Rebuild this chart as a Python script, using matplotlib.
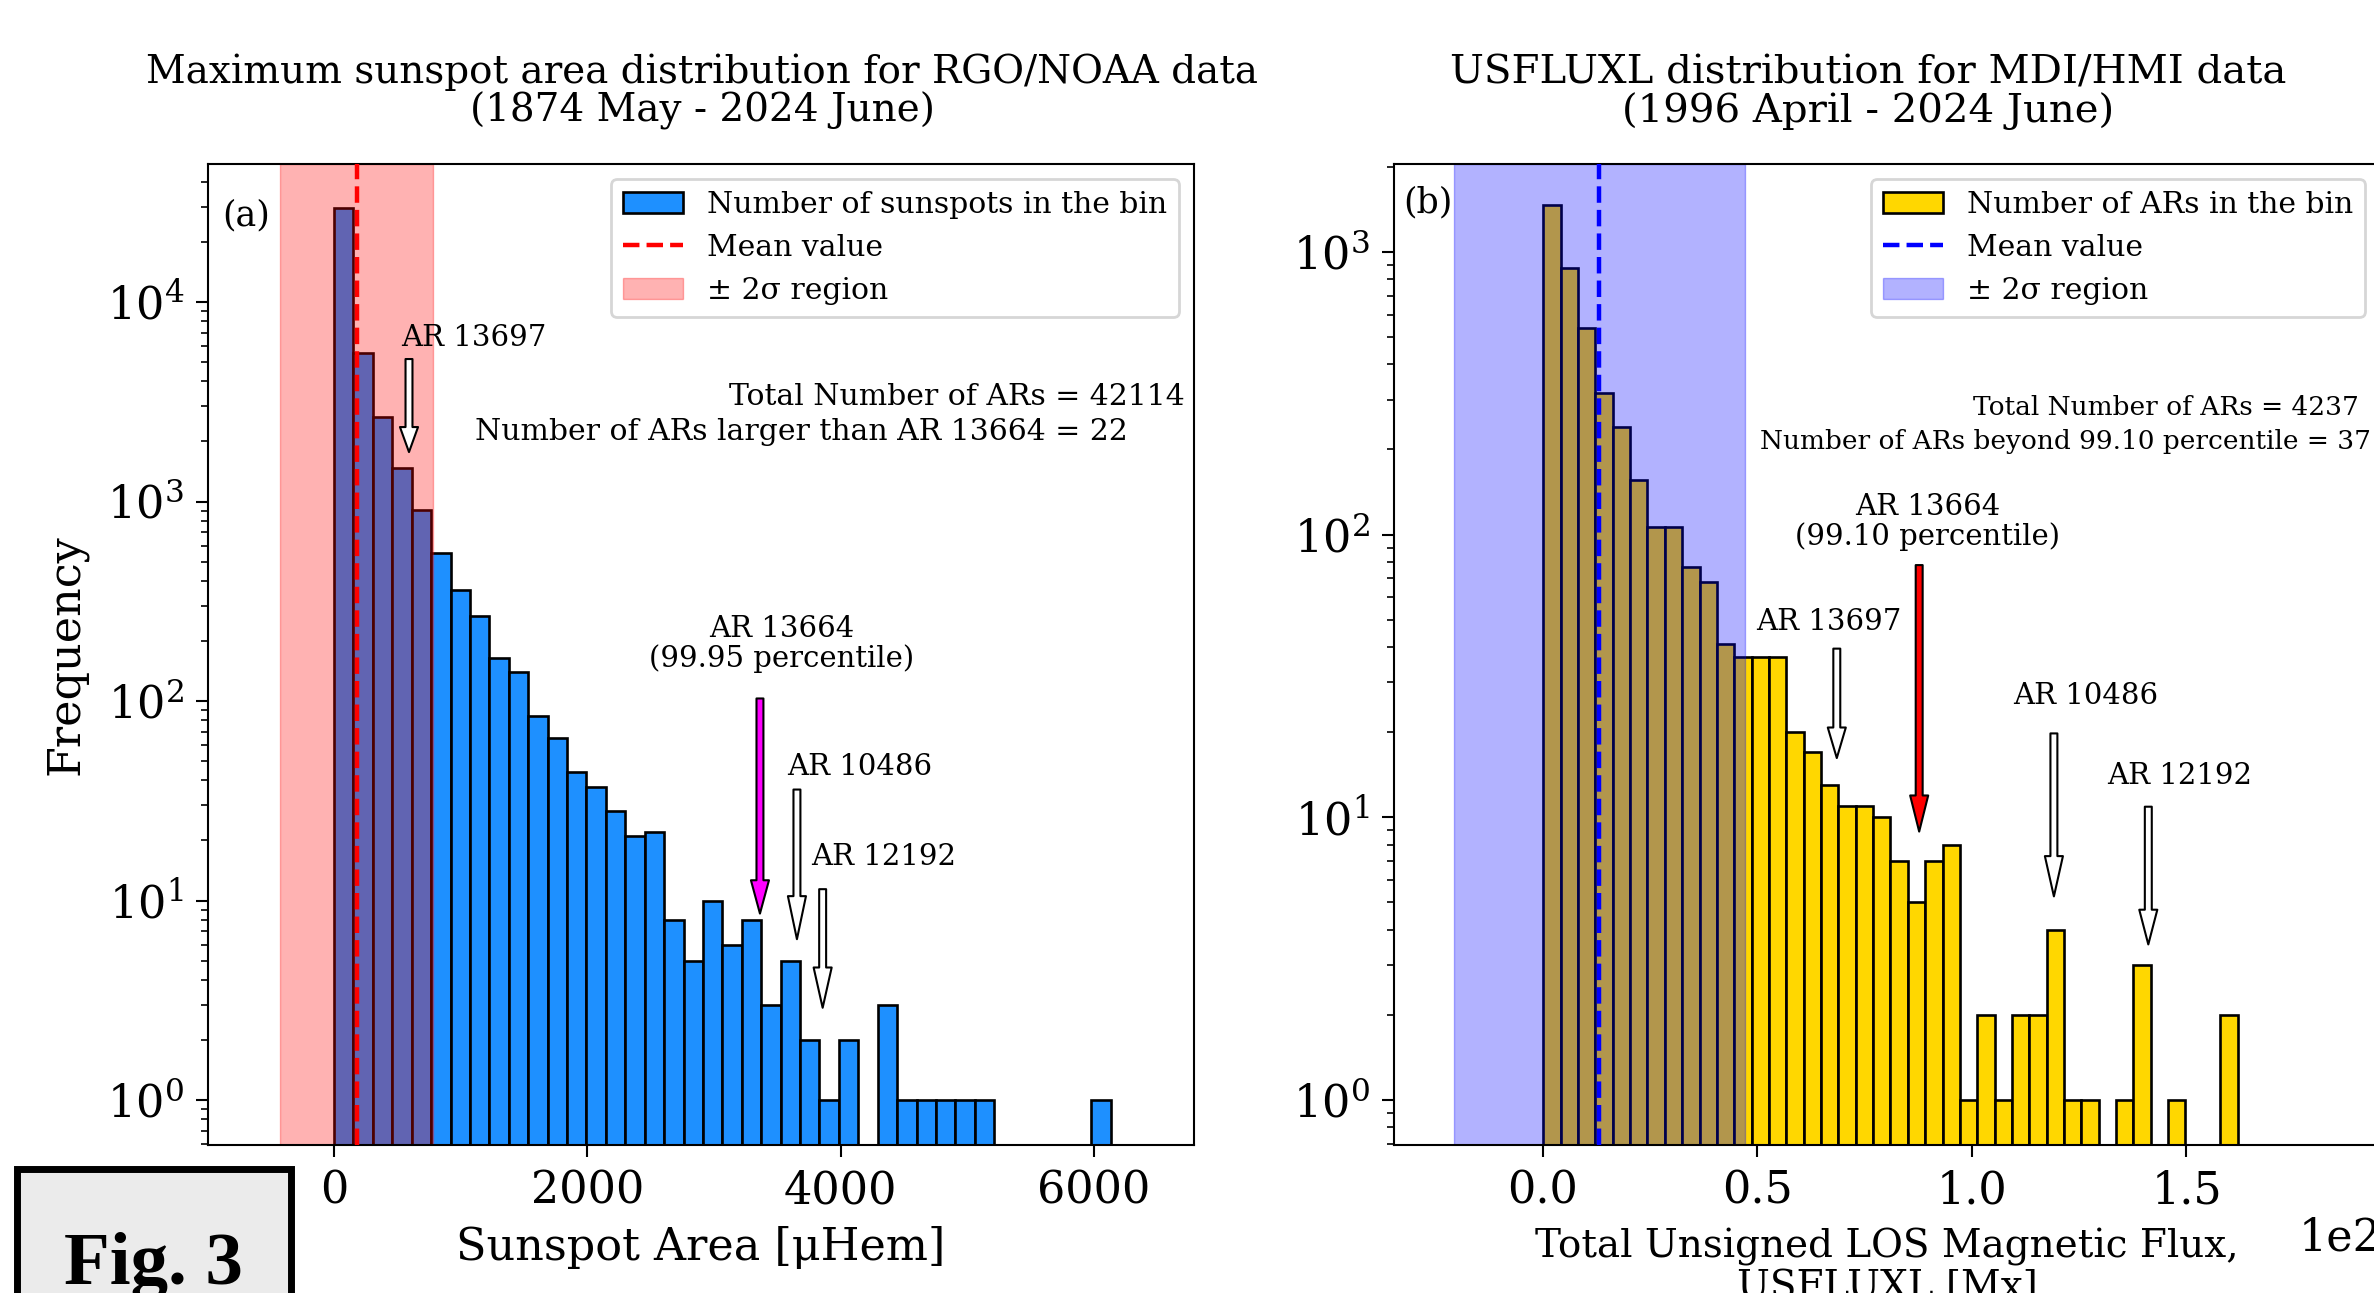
import numpy as np
import matplotlib
matplotlib.use('Agg')
import matplotlib.pyplot as plt
from matplotlib.patches import Patch, Rectangle
from matplotlib.lines import Line2D

plt.rcParams['font.family'] = 'DejaVu Serif'
plt.rcParams['mathtext.fontset'] = 'dejavuserif'

# (a) RGO/NOAA maximum sunspot area, 40 bins
area_range = (0, 6132)
area_counts = [29700, 5530, 2640, 1466, 906, 554, 360, 267, 165, 139,
               84, 65, 44, 37, 28, 21, 22, 8, 5, 10,
               6, 8, 3, 5, 2, 1, 2, 0, 3, 1,
               1, 1, 1, 1, 0, 0, 0, 0, 0, 1]
area_mean = 178
area_2sigma = 602

# (b) MDI/HMI USFLUXL, 40 bins
flux_range = (0.001e23, 1.619e23)
flux_counts = [1460, 875, 537, 318, 240, 156, 106, 106, 77, 68,
               41, 37, 37, 37, 20, 17, 13, 11, 11, 10,
               7, 5, 7, 8, 1, 2, 1, 2, 2, 4,
               1, 1, 0, 1, 3, 0, 1, 0, 0, 2]
flux_mean = 0.1317e23
flux_2sigma = 0.34e23

# arrows marking the big active regions
ar_labels_a = ['AR 13697', 'AR 13664\n(99.95 percentile)', 'AR 10486', 'AR 12192']
ar_x_a = [592, 3363, 3655, 3858]
ar_tail_a = [5180, 103, 36, 11.4]
ar_tip_a = [1770, 8.6, 6.4, 2.9]
ar_text_a = [(1100, 6640), (3537, 194), (4150, 46.6), (4336, 16.6)]
ar_color_a = ['white', 'magenta', 'white', 'white']
ar_head_a = [18, 24, 31, 29]

ar_labels_b = ['AR 13697', 'AR 13664\n(99.10 percentile)', 'AR 10486', 'AR 12192']
ar_x_b = [0.685e23, 0.877e23, 1.191e23, 1.411e23]
ar_tail_b = [39.5, 78, 19.8, 10.9]
ar_tip_b = [16.2, 8.9, 5.25, 3.55]
ar_text_b = [(0.666e23, 49.1), (0.8975e23, 111), (1.264e23, 26.9), (1.484e23, 14.0)]
ar_color_b = ['white', 'red', 'white', 'white']
ar_head_b = [22, 26, 29, 25]

W, H = 2374, 1293
fig = plt.figure(figsize=(W / 100, H / 100), dpi=100)
ax1 = fig.add_axes([208 / W, (H - 1145) / H, 986 / W, 981 / H])
ax2 = fig.add_axes([1394 / W, (H - 1145) / H, 986 / W, 981 / H])


def draw_panel(ax, rng, counts, mean, two_sig, bar_col, span_col, bar_label):
	edges = np.linspace(rng[0], rng[1], len(counts) + 1)
	ax.bar(edges[:-1], counts, width=np.diff(edges), align='edge',
		color=bar_col, edgecolor='black', linewidth=1.9, zorder=1)
	ax.axvspan(mean - two_sig, mean + two_sig, color=span_col, alpha=0.3, zorder=2)
	ax.axvline(mean, color=span_col, ls='--', lw=3.2, zorder=3)
	ax.set_yscale('log')
	handles = [Patch(facecolor=bar_col, edgecolor='black', linewidth=1.9),
		Line2D([], [], color=span_col, ls='--', lw=3.2),
		Patch(facecolor=span_col, edgecolor=span_col, alpha=0.3)]
	leg = ax.legend(handles, [bar_label, 'Mean value', '± 2σ region'],
		loc='upper right', fontsize=21.5, borderaxespad=0.5)
	leg.get_frame().set_linewidth(2)
	for s in ax.spines.values():
		s.set_linewidth(1.5)
	ax.tick_params(which='major', labelsize=32, length=8.4, width=1.5, pad=9)
	ax.tick_params(which='minor', length=4.8, width=1.2)


def draw_arrows(ax, labels, xs, tails, tips, texts, colors, heads, fs):
	for lab, x, t0, t1, txy, c, hl in zip(labels, xs, tails, tips, texts, colors, heads):
		ax.annotate('', xy=(x, t1), xytext=(x, t0),
			arrowprops=dict(facecolor=c, edgecolor='black', width=5, headwidth=13,
				headlength=hl, shrink=0, lw=1.5), zorder=5)
		ax.text(txy[0], txy[1], lab, ha='center', va='center', multialignment='center',
			fontsize=fs, linespacing=1.05, zorder=5)


# left panel
draw_panel(ax1, area_range, area_counts, area_mean, area_2sigma,
	'dodgerblue', 'red', 'Number of sunspots in the bin')
draw_arrows(ax1, ar_labels_a, ar_x_a, ar_tail_a, ar_tip_a, ar_text_a, ar_color_a, ar_head_a, 21)
ax1.set_xlim(-995, 6790)
ax1.set_ylim(0.595, 49200)
ax1.set_xticks([0, 2000, 4000, 6000])
ax1.set_xlabel('Sunspot Area [μHem]', fontsize=32)
ax1.xaxis.set_label_coords(0.5, -0.082)
ax1.set_ylabel('Frequency', fontsize=32)
ax1.yaxis.set_label_coords(-0.122, 0.5)
ax1.text(0.5015, 1.0347, 'Maximum sunspot area distribution for RGO/NOAA data\n(1874 May - 2024 June)',
	transform=ax1.transAxes, ha='center', va='bottom', multialignment='center',
	fontsize=28, linespacing=1.03)
ax1.text(0.014, 0.948, '(a)', transform=ax1.transAxes, ha='left', va='center', fontsize=25)
ax1.text(0.991, 0.762, 'Total Number of ARs = 42114', transform=ax1.transAxes,
	ha='right', va='center', fontsize=21.5)
ax1.text(0.933, 0.727, 'Number of ARs larger than AR 13664 = 22', transform=ax1.transAxes,
	ha='right', va='center', fontsize=21.5)

# right panel
draw_panel(ax2, flux_range, flux_counts, flux_mean, flux_2sigma,
	'gold', 'blue', 'Number of ARs in the bin')
draw_arrows(ax2, ar_labels_b, ar_x_b, ar_tail_b, ar_tip_b, ar_text_b, ar_color_b, ar_head_b, 21)
ax2.set_xlim(-0.347e23, 1.951e23)
ax2.set_ylim(0.693, 2046)
ax2.set_xticks([0, 0.5e23, 1.0e23, 1.5e23])
ax2.xaxis.get_offset_text().set_fontsize(32)
ax2.xaxis.get_offset_text().set_x(1.03)
ax2.set_xlabel('Total Unsigned LOS Magnetic Flux,\nUSFLUXL [Mx]', fontsize=28, linespacing=1.08)
ax2.xaxis.set_label_coords(0.5, -0.085)
ax2.text(0.481, 1.0347, 'USFLUXL distribution for MDI/HMI data\n(1996 April - 2024 June)',
	transform=ax2.transAxes, ha='center', va='bottom', multialignment='center',
	fontsize=29, linespacing=1.03)
ax2.text(0.0095, 0.961, '(b)', transform=ax2.transAxes, ha='left', va='center', fontsize=25)
ax2.text(0.9785, 0.752, 'Total Number of ARs = 4237', transform=ax2.transAxes,
	ha='right', va='center', fontsize=19)
ax2.text(0.9907, 0.717, 'Number of ARs beyond 99.10 percentile = 37', transform=ax2.transAxes,
	ha='right', va='center', fontsize=19)

# figure tag in the corner
fig.add_artist(Rectangle((17 / W, -0.05), 274 / W, (H - 1169) / H + 0.05,
	transform=fig.transFigure, facecolor='#ebebeb', edgecolor='black', lw=5, clip_on=False))
fig.text(153 / W, (H - 1284) / H, 'Fig. 3', ha='center', va='baseline', fontsize=54,
	fontweight='bold', family='Liberation Serif')

fig.savefig('out.png', dpi=100)
